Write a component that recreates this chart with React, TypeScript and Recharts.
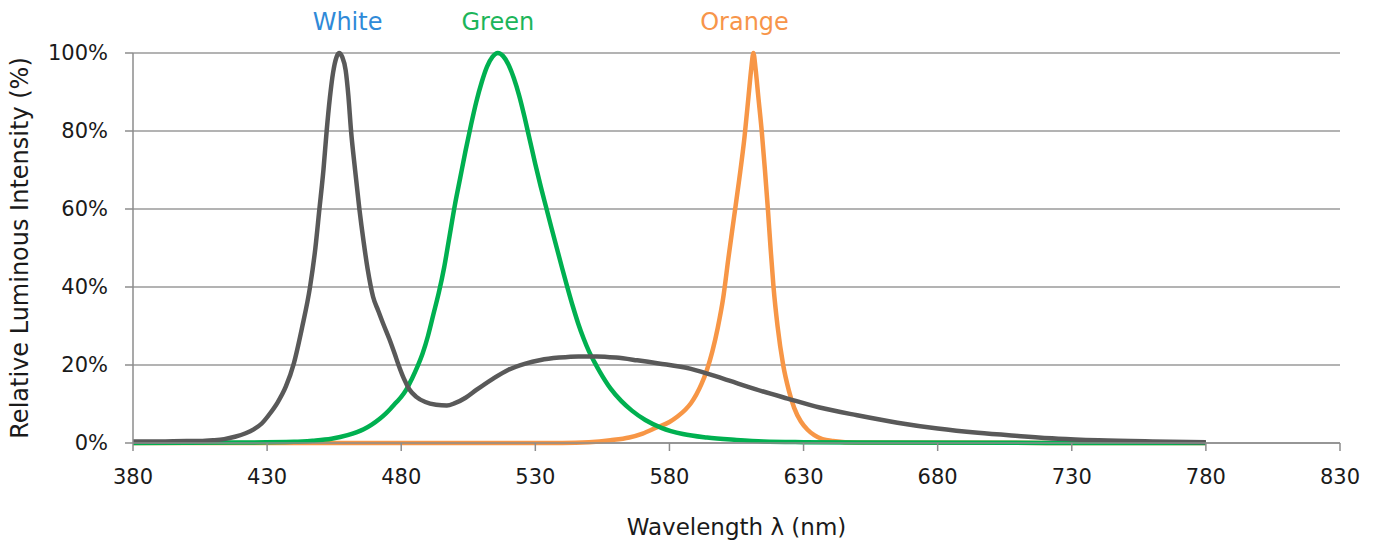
import React from "react";
import { CartesianGrid, Label, Line, LineChart, ReferenceDot, XAxis, YAxis } from "recharts";

// wavelength (nm) / relative intensity (%)
const whiteNm = [
  380, 390, 400, 405, 410, 414, 418, 422, 425, 428, 431, 434, 437, 440, 443, 446, 448, 449.5, 451, 452.2,
  453.4, 454.6, 455.8, 456.8, 458, 459.3, 460.3, 461.3, 462.8, 464.4, 466, 467.5, 469.5, 471.5, 473.5, 475.5,
  477.5, 479, 481, 483, 485.5, 489, 493, 497, 500, 504, 508, 514, 520, 526, 532, 539, 546, 553, 560, 568, 576,
  588, 600, 612, 624, 636, 650, 665, 680, 695, 710, 725, 740, 760, 780,
];
const whiteVal = [
  0.4, 0.4, 0.5, 0.5, 0.7, 1.0, 1.6, 2.5, 3.5, 5, 7.5, 10.5, 14.5, 20.5, 29.5, 40, 50, 60, 70, 80,
  88.5, 95, 98.8, 100, 99, 95.5, 89, 80, 70, 60, 51.5, 44.5, 37.5, 33.8, 30.2, 26.8,
  23, 20, 16.5, 13.8, 11.9, 10.5, 9.8, 9.6, 10.2, 11.6, 13.6, 16.4, 18.8, 20.3, 21.3, 21.9, 22.2, 22.2, 21.9, 21.2, 20.4,
  19, 16.5, 13.8, 11.4, 9.1, 7.1, 5.2, 3.7, 2.6, 1.8, 1.1, 0.7, 0.4, 0.2,
];

const greenNm = [
  380, 420, 440, 447, 454, 460, 466, 469, 472, 474, 476, 478, 480, 482, 484, 486, 488, 490, 492, 494, 496,
  498, 500, 502, 504, 506, 508, 510, 512, 514, 516, 518, 520, 522, 524, 526, 528, 530, 532, 534, 536, 538,
  540, 542, 544, 546, 548, 550, 552, 554, 558, 562, 566, 571, 577, 585, 594, 605, 615, 630, 650, 780,
];
const greenVal = [
  0, 0.1, 0.3, 0.6, 1.1, 2, 3.5, 4.7, 6.2, 7.4, 8.8, 10.3, 11.8, 13.8, 16.5, 19.5, 23, 27.5, 33, 38.5, 45,
  53, 61, 68, 75, 81.5, 87.5, 92.5, 96.5, 99, 100, 99.2, 97, 93.5, 89, 83.5, 77.5, 71.5, 65.8, 60.5, 55.2, 50,
  44.8, 39.8, 35, 30.6, 26.8, 23.5, 20.8, 18.3, 14, 10.8, 8.3, 5.9, 3.9, 2.3, 1.4, 0.8, 0.4, 0.2, 0.1, 0,
];

const orangeNm = [
  380, 540, 550, 558, 565, 570, 575, 580, 583, 586, 588, 590, 592, 594, 596, 598, 600, 602, 604, 606, 608,
  609.5, 610.5, 611.3, 612.1, 613.1, 614.4, 615.6, 616.7, 617.7, 618.8, 620.3, 622.4, 624.5, 626.5, 629,
  631.5, 634, 637, 641, 650, 780,
];
const orangeVal = [
  0, 0, 0.2, 0.7, 1.4, 2.4, 3.9, 5.4, 6.8, 8.6, 10.2, 12.4, 15.2, 18.8, 23.5, 29.5, 37, 47.5, 57.5, 67.5, 78.5,
  89, 96, 100, 96, 89, 80, 70, 60, 50, 40, 30, 20, 13.5, 9, 5.5,
  3.4, 2, 1, 0.5, 0.1, 0,
];

const xTicks = [380, 430, 480, 530, 580, 630, 680, 730, 780, 830];
const yTicks = [0, 20, 40, 60, 80, 100];

const toPoints = (nm: number[], val: number[]) => nm.map((x, i) => ({ x, y: val[i] }));

const FONT = "DejaVu Sans";
const AXIS = "#8c8c8c";

export default function App() {
  const white = toPoints(whiteNm, whiteVal);
  const green = toPoints(greenNm, greenVal);
  const orange = toPoints(orangeNm, orangeVal);

  return (
    <div style={{ position: "absolute", left: 0, top: 0, width: 1379, height: 545, background: "#fff" }}>
      <LineChart width={1379} height={545} margin={{ top: 53, right: 39, bottom: 0, left: 0 }}>
        <CartesianGrid vertical={false} stroke="#9a9a9a" strokeWidth={1.5} />
        <XAxis
          type="number"
          dataKey="x"
          domain={[380, 830]}
          ticks={xTicks}
          allowDataOverflow
          height={102}
          stroke={AXIS}
          strokeWidth={1.5}
          tickSize={8}
          tickMargin={18}
          tick={{ fill: "#1a1a1a", fontSize: 21, fontFamily: FONT }}
        >
          <Label
            value="Wavelength λ (nm)"
            position="insideBottom"
            offset={10}
            style={{ fill: "#1a1a1a", fontSize: 23, fontFamily: FONT }}
          />
        </XAxis>
        <YAxis
          type="number"
          domain={[0, 100]}
          ticks={yTicks}
          width={133}
          stroke={AXIS}
          strokeWidth={1.5}
          tickSize={8}
          tickMargin={17}
          tickFormatter={(v) => `${v}%`}
          tick={{ fill: "#1a1a1a", fontSize: 21, fontFamily: FONT }}
          label={{
            content: (props: any) => {
              const vb = props.viewBox;
              const cx = vb.x + 20;
              const cy = vb.y + vb.height / 2;
              return (
                <text
                  x={cx}
                  y={cy}
                  transform={`rotate(-90 ${cx} ${cy})`}
                  textAnchor="middle"
                  dominantBaseline="central"
                  fill="#1a1a1a"
                  fontSize={24}
                  fontFamily={FONT}
                >
                  Relative Luminous Intensity (%)
                </text>
              );
            },
          }}
        />
        <Line data={orange} dataKey="y" type="monotone" stroke="#f79646" strokeWidth={4.5} dot={false} activeDot={false} isAnimationActive={false} />
        <Line data={green} dataKey="y" type="monotone" stroke="#00b050" strokeWidth={4.5} dot={false} activeDot={false} isAnimationActive={false} />
        <Line data={white} dataKey="y" type="monotone" stroke="#595959" strokeWidth={4.5} dot={false} activeDot={false} isAnimationActive={false} />
        <ReferenceDot x={460} y={100} r={0} fill="none" stroke="none"
          label={{ value: "White", position: "top", offset: 23, fill: "#2f8ad8", fontSize: 24, fontFamily: FONT }} />
        <ReferenceDot x={516} y={100} r={0} fill="none" stroke="none"
          label={{ value: "Green", position: "top", offset: 23, fill: "#1cb55a", fontSize: 24, fontFamily: FONT }} />
        <ReferenceDot x={608} y={100} r={0} fill="none" stroke="none"
          label={{ value: "Orange", position: "top", offset: 23, fill: "#f7954a", fontSize: 24, fontFamily: FONT }} />
      </LineChart>
    </div>
  );
}
